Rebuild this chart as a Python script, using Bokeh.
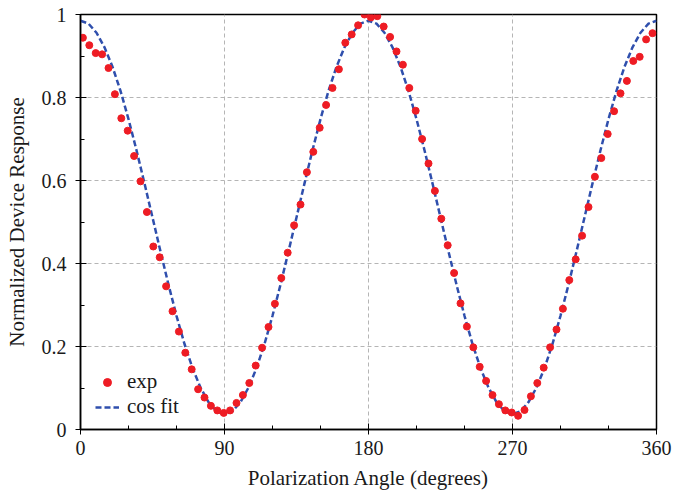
from bokeh.plotting import figure
from bokeh.models import FixedTicker, CustomJSTickFormatter, Legend, LegendItem, Range1d
from bokeh.embed import file_html
from bokeh.resources import INLINE

# measured points (angle in degrees, normalized response)
exp_angle = [1.5, 5.5, 9.5, 13.5, 17.5, 21.5, 25.5, 29.5, 33.5, 37.5,
             41.5, 45.5, 49.5, 53.5, 57.5, 61.5, 65.5, 69.5, 73.5, 77.5,
             81.5, 85.5, 89.5, 93.5, 97.5, 101.5, 105.5, 109.5, 113.5, 117.5,
             121.5, 125.5, 129.5, 133.5, 137.5, 141.5, 145.5, 149.5, 153.5, 157.5,
             161.5, 165.5, 169.5, 173.5, 177.5, 181.5, 185.5, 189.5, 193.5, 197.5,
             201.5, 205.5, 209.5, 213.5, 217.5, 221.5, 225.5, 229.5, 233.5, 237.5,
             241.5, 245.5, 249.5, 253.5, 257.5, 261.5, 265.5, 269.5, 273.5, 277.5,
             281.5, 285.5, 289.5, 293.5, 297.5, 301.5, 305.5, 309.5, 313.5, 317.5,
             321.5, 325.5, 329.5, 333.5, 337.5, 341.5, 345.5, 349.5, 353.5, 357.5]
exp_value = [0.944, 0.926, 0.907, 0.904, 0.871, 0.808, 0.750, 0.720, 0.659, 0.598,
             0.524, 0.441, 0.415, 0.345, 0.285, 0.236, 0.185, 0.145, 0.097, 0.077,
             0.057, 0.046, 0.040, 0.046, 0.064, 0.083, 0.112, 0.154, 0.197, 0.247,
             0.303, 0.365, 0.426, 0.492, 0.542, 0.620, 0.669, 0.727, 0.782, 0.823,
             0.868, 0.932, 0.952, 0.974, 1.000, 0.993, 0.996, 0.971, 0.946, 0.911,
             0.879, 0.823, 0.768, 0.700, 0.641, 0.575, 0.508, 0.444, 0.377, 0.304,
             0.248, 0.198, 0.151, 0.117, 0.083, 0.061, 0.046, 0.041, 0.033, 0.047,
             0.080, 0.112, 0.149, 0.198, 0.241, 0.291, 0.360, 0.410, 0.467, 0.536,
             0.609, 0.654, 0.712, 0.767, 0.810, 0.840, 0.888, 0.898, 0.940, 0.955]

# cos fit curve every 5 degrees
fit_angle = list(range(0, 365, 5))
fit_value = [0.985, 0.978, 0.956, 0.921, 0.874, 0.816, 0.748, 0.673, 0.593, 0.511,
             0.429, 0.349, 0.274, 0.206, 0.148, 0.101, 0.066, 0.044, 0.037,
             0.044, 0.066, 0.101, 0.148, 0.206, 0.274, 0.349, 0.429, 0.511, 0.593,
             0.673, 0.748, 0.816, 0.874, 0.921, 0.956, 0.978, 0.985,
             0.978, 0.956, 0.921, 0.874, 0.816, 0.748, 0.673, 0.593, 0.511,
             0.429, 0.349, 0.274, 0.206, 0.148, 0.101, 0.066, 0.044, 0.037,
             0.044, 0.066, 0.101, 0.148, 0.206, 0.274, 0.349, 0.429, 0.511, 0.593,
             0.673, 0.748, 0.816, 0.874, 0.921, 0.956, 0.978, 0.985]

x_major = [0, 90, 180, 270, 360]
x_minor = [0, 30, 60, 90, 120, 150, 180, 210, 240, 270, 300, 330, 360]
y_major = [0, 0.2, 0.4, 0.6, 0.8, 1.0]
y_minor = [0, 0.1, 0.2, 0.3, 0.4, 0.5, 0.6, 0.7, 0.8, 0.9, 1.0]

FONT = "Liberation Serif"

p = figure(width=673, height=498, output_backend="svg", toolbar_location=None,
           x_range=Range1d(0, 360), y_range=Range1d(0, 1),
           min_border_left=80, min_border_right=17, min_border_top=14, min_border_bottom=69)
p.background_fill_color = "white"
p.border_fill_color = "white"
p.outline_line_color = "black"
p.outline_line_width = 1.5
p.outline_line_alpha = 1.0

fit_r = p.line(fit_angle, fit_value, line_color="#2f4fad", line_width=2.5, line_dash="6 3")
exp_r = p.scatter(exp_angle, exp_value, size=7, fill_color="#ee1c24", line_color="#ee1c24")

p.xaxis.ticker = FixedTicker(ticks=x_major, minor_ticks=x_minor)
p.yaxis.ticker = FixedTicker(ticks=y_major, minor_ticks=y_minor)
p.yaxis.formatter = CustomJSTickFormatter(code="return Number(tick.toFixed(2)).toString();")

for ax in (p.xaxis[0], p.yaxis[0]):
    ax.axis_line_color = "black"
    ax.axis_line_width = 1.5
    ax.major_tick_line_color = "black"
    ax.minor_tick_line_color = "black"
    ax.major_tick_in = 6
    ax.major_tick_out = 5
    ax.minor_tick_in = 4
    ax.minor_tick_out = 0
    ax.major_label_text_font = FONT
    ax.major_label_text_font_size = "20px"
    ax.major_label_text_color = "#1a1a1a"
    ax.axis_label_text_font = FONT
    ax.axis_label_text_font_size = "21px"
    ax.axis_label_text_font_style = "normal"
    ax.axis_label_text_color = "#1a1a1a"

p.xaxis.axis_label = "Polarization Angle (degrees)"
p.yaxis.axis_label = "Normalized Device Response"
p.xaxis.major_label_standoff = 6
p.xaxis.axis_label_standoff = 8
p.yaxis.major_label_standoff = 9
p.yaxis.axis_label_standoff = 10

for g in (p.xgrid[0], p.ygrid[0]):
    g.grid_line_color = "#b5b5b5"
    g.grid_line_dash = "4 3"
    g.grid_line_width = 1

legend = Legend(items=[LegendItem(label="exp", renderers=[exp_r]),
                       LegendItem(label="cos fit", renderers=[fit_r])],
                location=(15, 10))
legend.background_fill_alpha = 0
legend.border_line_alpha = 0
legend.padding = 0
legend.margin = 0
legend.spacing = 0
legend.glyph_width = 24
legend.glyph_height = 20
legend.label_height = 20
legend.label_standoff = 8
legend.label_text_font = FONT
legend.label_text_font_size = "21px"
legend.label_text_color = "#1a1a1a"
p.add_layout(legend)

open("out.html", "w").write(file_html(p, INLINE))
